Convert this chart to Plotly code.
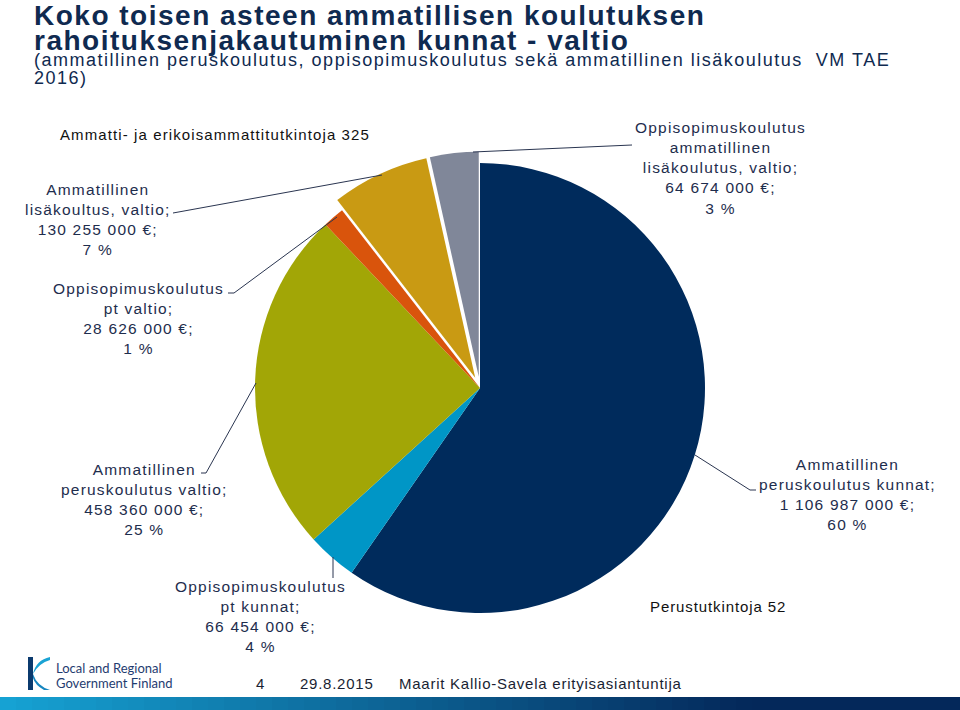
import plotly.graph_objects as go

W, H = 960, 710

# ---------------- data ----------------
categories = [
    "Ammatillinen peruskoulutus kunnat",
    "Oppisopimuskoulutus pt kunnat",
    "Ammatillinen peruskoulutus valtio",
    "Oppisopimuskoulutus pt valtio",
    "Ammatillinen lisäkoultus, valtio",
    "Oppisopimuskoulutus ammatillinen lisäkoulutus, valtio",
]
name_lines = [
    ["Ammatillinen", "peruskoulutus kunnat;"],
    ["Oppisopimuskoulutus", "pt kunnat;"],
    ["Ammatillinen", "peruskoulutus valtio;"],
    ["Oppisopimuskoulutus", "pt valtio;"],
    ["Ammatillinen", "lisäkoultus, valtio;"],
    ["Oppisopimuskoulutus", "ammatillinen", "lisäkoulutus, valtio;"],
]
values = [1106987000, 66454000, 458360000, 28626000, 130255000, 64674000]
percent_labels = [60, 4, 25, 1, 7, 3]
colors = ["#002B5C", "#0096C6", "#A2A606", "#D9540C", "#C99A13", "#808799"]
pulls = [0, 0, 0, 0, 0.05, 0.05]

extra_notes = ["Ammatti- ja erikoisammattitutkintoja 325", "Perustutkintoja 52"]
title_lines = ["Koko toisen asteen ammatillisen koulutuksen",
               "rahoituksenjakautuminen kunnat - valtio"]
subtitle_lines = ["(ammatillinen peruskoulutus, oppisopimuskoulutus sekä ammatillinen lisäkoulutus  VM TAE",
                  "2016)"]
footer = ["4", "29.8.2015", "Maarit Kallio-Savela erityisasiantuntija"]
logo_lines = ["Local and Regional", "Government Finland"]

# ---------------- helpers ----------------
def px(x):
    return x / W

def py(y):
    return 1 - y / H

def sp(t, ls):
    return f"<span style='letter-spacing:{ls}px'>{t}</span>"

NAVY_TXT = "#1E2D4D"
TITLE_C = "#0F2A50"

fig = go.Figure()

cx, cy = 480, 388
r_eff = 225
half = r_eff * (1 + max(pulls))
fig.add_trace(go.Pie(
    labels=categories, values=values, sort=False, direction="clockwise",
    rotation=0, pull=pulls, textinfo="none", hoverinfo="label+value+percent",
    marker=dict(colors=colors, line=dict(width=0)),
    domain=dict(x=[px(cx - 300), px(cx + 300)], y=[py(cy + half), py(cy - half)]),
    showlegend=False,
))

annotations = []
shapes = []

# ---- data labels ----
label_pos = [(847, 495), (260, 616.5), (144, 500), (138, 318.5), (97, 219.5), (720, 168)]
for i in range(len(categories)):
    lines = name_lines[i] + [f"{values[i]:,}".replace(",", " ") + " €;", f"{percent_labels[i]} %"]
    txt = "<br>".join(sp(l, 1.2) for l in lines)
    x, y = label_pos[i]
    annotations.append(dict(x=px(x), y=py(y), xref="paper", yref="paper", text=txt,
                            showarrow=False, xanchor="center", yanchor="middle", align="center",
                            font=dict(family="Liberation Sans, Arial", size=15.5, color=NAVY_TXT)))

# ---- leader lines ----
leaders = [
    [(173, 213), (382, 175)],
    [(228, 293), (234, 293), (337, 217)],
    [(632, 145), (473, 152)],
    [(201, 473), (206, 473), (256, 383)],
    [(333, 557), (333, 578)],
    [(695, 455), (750, 490), (756, 490)],
]
for pts in leaders:
    path = "M " + " L ".join(f"{px(a)},{py(b)}" for a, b in pts)
    shapes.append(dict(type="path", xref="paper", yref="paper", path=path,
                       line=dict(color="#2A3550", width=1)))

# ---- extra notes ----
annotations.append(dict(x=px(58), y=py(135), xref="paper", yref="paper",
                        text=sp(extra_notes[0], 1.1), showarrow=False, xanchor="left", yanchor="middle",
                        font=dict(family="Liberation Sans, Arial", size=15, color="#111111")))
annotations.append(dict(x=px(648), y=py(606), xref="paper", yref="paper",
                        text=sp(extra_notes[1], 0.9), showarrow=False, xanchor="left", yanchor="middle",
                        font=dict(family="Liberation Sans, Arial", size=15, color="#111111")))

# ---- title ----
annotations.append(dict(x=px(33), y=py(16), xref="paper", yref="paper", borderpad=0,
                        text="<b>" + sp(title_lines[0], 1.5) + "</b>", showarrow=False,
                        xanchor="left", yanchor="middle",
                        font=dict(family="Liberation Sans, Arial", size=28, color=TITLE_C)))
annotations.append(dict(x=px(33), y=py(40), xref="paper", yref="paper", borderpad=0,
                        text="<b>" + sp(title_lines[1], 1.5) + "</b>", showarrow=False,
                        xanchor="left", yanchor="middle",
                        font=dict(family="Liberation Sans, Arial", size=28, color=TITLE_C)))
annotations.append(dict(x=px(33), y=py(60), xref="paper", yref="paper", borderpad=0,
                        text=sp(subtitle_lines[0], 1.5), showarrow=False,
                        xanchor="left", yanchor="middle",
                        font=dict(family="Liberation Sans, Arial", size=18, color=TITLE_C)))
annotations.append(dict(x=px(33), y=py(78), xref="paper", yref="paper", borderpad=0,
                        text=sp(subtitle_lines[1], 1.5), showarrow=False,
                        xanchor="left", yanchor="middle",
                        font=dict(family="Liberation Sans, Arial", size=18, color=TITLE_C)))

# ---- footer ----
for t, x in zip(footer, [254, 298, 397]):
    annotations.append(dict(x=px(x), y=py(683), xref="paper", yref="paper",
                            text=sp(t, 0.75), showarrow=False, xanchor="left", yanchor="middle",
                            font=dict(family="Liberation Sans, Arial", size=15, color="#1A1F33")))

# ---- logo ----
for t, y in zip(logo_lines, [668, 683]):
    annotations.append(dict(x=px(54), y=py(y), xref="paper", yref="paper",
                            text=t, showarrow=False, xanchor="left", yanchor="middle",
                            font=dict(family="Lato, Open Sans", size=13, color="#1F3C70")))
shapes.append(dict(type="rect", xref="paper", yref="paper", x0=px(28), x1=px(33),
                   y0=py(690), y1=py(657), fillcolor="#0B3A6E", line=dict(width=0)))
shapes.append(dict(type="path", xref="paper", yref="paper",
                   path=f"M {px(50)},{py(657)} Q {px(36)},{py(660)} {px(33)},{py(674)} "
                        f"Q {px(39)},{py(663)} {px(50)},{py(660)} Z",
                   fillcolor="#1AA3D4", line=dict(width=0)))
shapes.append(dict(type="path", xref="paper", yref="paper",
                   path=f"M {px(33)},{py(674)} Q {px(37)},{py(686)} {px(50)},{py(690)} "
                        f"L {px(44)},{py(690)} Q {px(35)},{py(685)} {px(33)},{py(678)} Z",
                   fillcolor="#1786C0", line=dict(width=0)))

# ---- gradient bar ----
c0 = (22, 163, 212)
c1 = (4, 40, 90)
n = 60
for k in range(n):
    x0 = k * W / n
    x1 = (k + 1) * W / n + 0.6
    t = min(1.0, (k + 0.5) / n / 0.78)
    c = tuple(int(round(c0[j] + (c1[j] - c0[j]) * t)) for j in range(3))
    shapes.append(dict(type="rect", xref="paper", yref="paper", x0=px(x0), x1=px(min(x1, W)),
                       y0=0, y1=py(697), fillcolor=f"rgb{c}", line=dict(width=0), layer="below"))

fig.update_layout(
    width=W, height=H, margin=dict(l=0, r=0, t=0, b=0),
    paper_bgcolor="white", plot_bgcolor="white",
    annotations=annotations, shapes=shapes, showlegend=False,
)

fig.write_html("out.html", config={"displayModeBar": False},
               post_script="document.body.style.margin='0';document.body.style.overflow='hidden';")
